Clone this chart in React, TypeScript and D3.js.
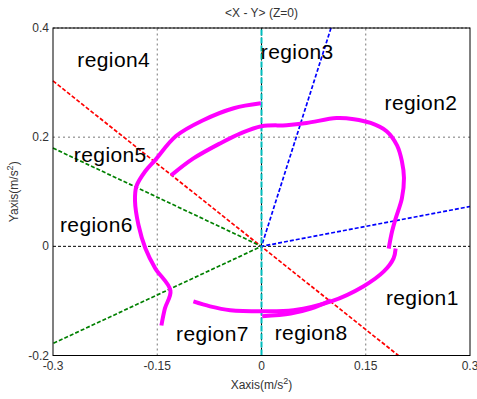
import * as d3 from "d3";

// trajectory pieces, [x, y] in m/s^2
const outerArc: [number, number][] = [
  [-0.001, 0.262], [-0.04, 0.253], [-0.084, 0.231], [-0.123, 0.202], [-0.153, 0.158],
  [-0.167, 0.138], [-0.18, 0.11], [-0.182, 0.083], [-0.177, 0.039], [-0.167, -0.004],
  [-0.153, -0.04], [-0.131, -0.081], [-0.139, -0.114], [-0.144, -0.145],
];
const innerLoop: [number, number][] = [
  [-0.13, 0.13], [-0.098, 0.161], [-0.059, 0.189], [-0.03, 0.207], [0, 0.22],
  [0.036, 0.222], [0.065, 0.226], [0.108, 0.235], [0.133, 0.233], [0.157, 0.226],
  [0.18, 0.211], [0.195, 0.185], [0.202, 0.156], [0.205, 0.125], [0.202, 0.088],
  [0.193, 0.051], [0.188, 0.028], [0.183, -0.004],
];
const lowerArc: [number, number][] = [
  [0.193, -0.004], [0.19, -0.022], [0.176, -0.046], [0.147, -0.073], [0.1, -0.101],
  [0.046, -0.117], [0, -0.119], [-0.045, -0.117], [-0.074, -0.11], [-0.098, -0.101],
];
const lowerTail: [number, number][] = [
  [0.001, -0.128], [0.042, -0.123], [0.071, -0.114], [0.1, -0.099],
];

// region boundaries
const redLine: [number, number][] = [[-0.3, 0.303], [0.197, -0.2]];
const greenRays: [number, number][] = [[-0.3, 0.18], [0, 0], [-0.3, -0.178]];
const blueRays: [number, number][] = [[0.1, 0.4], [0, 0], [0.3, 0.073]];
const cyanLine: [number, number][] = [[0, -0.2], [0, 0.4]];

const regionNames = ["region1", "region2", "region3", "region4", "region5", "region6", "region7", "region8"];
const regionX = [0.179, 0.177, -0.001, -0.265, -0.27, -0.29, -0.123, 0.019];
const regionY = [-0.107, 0.25, 0.343, 0.328, 0.154, 0.026, -0.174, -0.171];

const xTicks = [-0.3, -0.15, 0, 0.15, 0.3];
const yTicks = [-0.2, 0, 0.2, 0.4];

const W = 477;
const H = 399;
const font = "Arial, 'Liberation Sans', sans-serif";

export default function App() {
  const x = d3.scaleLinear().domain([-0.3, 0.3]).range([53, 470]);
  const y = d3.scaleLinear().domain([-0.2, 0.4]).range([355.5, 28]);
  const line = d3.line<[number, number]>().x((d) => x(d[0])).y((d) => y(d[1]));
  const curve = d3.line<[number, number]>().x((d) => x(d[0])).y((d) => y(d[1])).curve(d3.curveCatmullRom);

  return (
    <svg width={W} height={H} style={{ position: "absolute", left: 0, top: 0, background: "#fff" }}>
      {/* grid */}
      {xTicks.slice(1, -1).map((t) => (
        <line key={"gx" + t} x1={x(t)} x2={x(t)} y1={y(-0.2)} y2={y(0.4)}
          stroke={t === 0 ? "#000" : "#777"} strokeWidth={1} strokeDasharray={t === 0 ? "3,2" : "2,3"} />
      ))}
      {yTicks.slice(1, -1).map((t) => (
        <line key={"gy" + t} x1={x(-0.3)} x2={x(0.3)} y1={y(t)} y2={y(t)}
          stroke={t === 0 ? "#000" : "#777"} strokeWidth={1} strokeDasharray={t === 0 ? "3,2" : "2,3"} />
      ))}
      <line x1={x(-0.3)} x2={x(0.3)} y1={y(0.4)} y2={y(0.4)} stroke="#555" strokeDasharray="2,2" />

      {/* boundaries */}
      <path d={line(redLine)!} fill="none" stroke="#ff0000" strokeWidth={1.7} strokeDasharray="4,2" />
      <path d={line(greenRays)!} fill="none" stroke="#008000" strokeWidth={1.7} strokeDasharray="4,2" />
      <path d={line(blueRays)!} fill="none" stroke="#0000ff" strokeWidth={1.7} strokeDasharray="4,2" />
      <path d={line(cyanLine)!} fill="none" stroke="#00bdbd" strokeWidth={2} strokeDasharray="6,2" />

      {/* trajectory */}
      {[outerArc, innerLoop, lowerArc, lowerTail].map((seg, i) => (
        <path key={i} d={curve(seg)!} fill="none" stroke="#ff00ff" strokeWidth={4} strokeLinecap="butt" strokeLinejoin="round" />
      ))}

      {/* region labels */}
      {regionNames.map((n, i) => (
        <text key={n} x={x(regionX[i])} y={y(regionY[i])} fontFamily={font} fontSize={21} letterSpacing={0.4} fill="#000">
          {n}
        </text>
      ))}

      {/* axes box */}
      <rect x={x(-0.3)} y={y(0.4)} width={x(0.3) - x(-0.3)} height={y(-0.2) - y(0.4)} fill="none" stroke="#000" strokeWidth={1} />

      {xTicks.map((t) => (
        <text key={"xt" + t} x={x(t)} y={y(-0.2) + 14} textAnchor="middle" fontFamily={font} fontSize={12} fill="#333">
          {t === 0 ? "0" : String(t)}
        </text>
      ))}
      {yTicks.map((t) => (
        <text key={"yt" + t} x={x(-0.3) - 4} y={y(t) + 4} textAnchor="end" fontFamily={font} fontSize={12} fill="#333">
          {t === 0 ? "0" : String(t)}
        </text>
      ))}

      <text x={x(0)} y={17} textAnchor="middle" fontFamily={font} fontSize={12} fill="#333">
        {"<X - Y> (Z=0)"}
      </text>
      <text x={x(0)} y={389} textAnchor="middle" fontFamily={font} fontSize={12} fill="#333">
        Xaxis(m/s<tspan dy={-5} fontSize={9}>2</tspan><tspan dy={5}>)</tspan>
      </text>
      <text transform={`translate(18, ${y(0.1)}) rotate(-90)`} textAnchor="middle" fontFamily={font} fontSize={12} fill="#333">
        Yaxis(m/s<tspan dy={-5} fontSize={9}>2</tspan><tspan dy={5}>)</tspan>
      </text>
    </svg>
  );
}
